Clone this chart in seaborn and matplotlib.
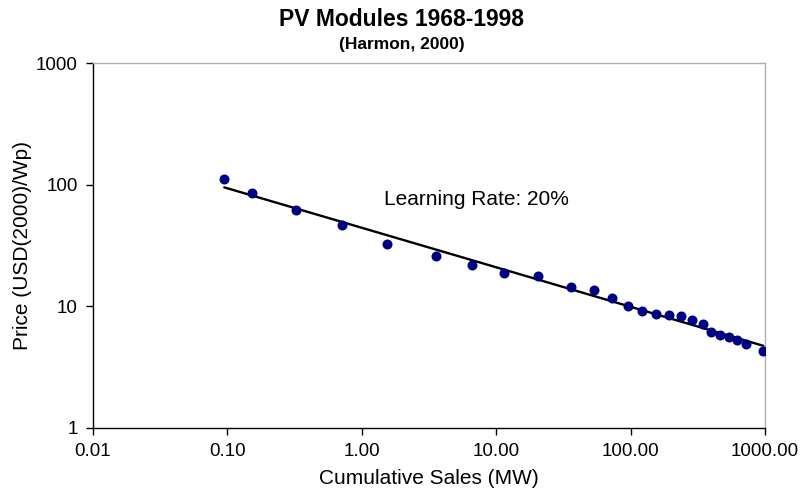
import numpy as np
import pandas as pd
import matplotlib
matplotlib.use("Agg")
import matplotlib.pyplot as plt
import seaborn as sns
from matplotlib.ticker import FixedLocator, FixedFormatter, NullLocator

# cumulative sales (MW) and module price (USD(2000)/Wp)
cum_sales = [0.0948, 0.152, 0.324, 0.708, 1.53, 3.55, 6.61, 11.4, 20.6, 35.8,
             53.7, 73.1, 95.7, 121.6, 153.8, 193, 237, 286, 344, 398,
             463, 537, 622, 722, 971]
price = [111.4, 85.9, 62.3, 46.4, 32.7, 26.1, 21.8, 18.7, 17.9, 14.4,
         13.5, 11.6, 10.1, 9.12, 8.71, 8.55, 8.29, 7.73, 7.17, 6.12,
         5.85, 5.64, 5.27, 4.88, 4.28]

x_ticks = [0.01, 0.1, 1, 10, 100, 1000]
x_ticklabels = ["0.01", "0.10", "1.00", "10.00", "100.00", "1000.00"]
y_ticks = [1, 10, 100, 1000]
y_ticklabels = ["1", "10", "100", "1000"]

df = pd.DataFrame({"sales": cum_sales, "price": price})

# power-law trend fitted in log-log space
b, a = np.polyfit(np.log10(df["sales"]), np.log10(df["price"]), 1)
trend = pd.DataFrame({"sales": [df["sales"].min(), df["sales"].max()]})
trend["price"] = 10 ** (a + b * np.log10(trend["sales"]))

sns.set_style("white")
plt.rcParams["font.family"] = ["Liberation Sans", "DejaVu Sans"]
plt.rcParams["text.color"] = "black"
plt.rcParams["axes.labelcolor"] = "black"
plt.rcParams["xtick.color"] = "black"
plt.rcParams["ytick.color"] = "black"

fig = plt.figure(figsize=(8.04, 4.95), dpi=100)
ax = fig.add_axes([93 / 804, 1 - 428 / 495, 672 / 804, 365 / 495])

sns.lineplot(data=trend, x="sales", y="price", color="black", linewidth=1.7, ax=ax)
sns.scatterplot(data=df, x="sales", y="price", color="#000080", s=52,
                edgecolor="#000080", linewidth=0, zorder=3, ax=ax)

ax.set_xscale("log")
ax.set_yscale("log")
ax.set_xlim(0.01, 1000)
ax.set_ylim(1, 1000)
ax.xaxis.set_major_locator(FixedLocator(x_ticks))
ax.xaxis.set_major_formatter(FixedFormatter(x_ticklabels))
ax.yaxis.set_major_locator(FixedLocator(y_ticks))
ax.yaxis.set_major_formatter(FixedFormatter(y_ticklabels))
ax.xaxis.set_minor_locator(NullLocator())
ax.yaxis.set_minor_locator(NullLocator())
ax.tick_params(axis="both", which="major", direction="out", length=5, width=1,
               color="black", labelcolor="black", labelsize=13.5, pad=6,
               bottom=True, left=True)

for side in ["left", "bottom"]:
    ax.spines[side].set_color("black")
    ax.spines[side].set_linewidth(1)
for side in ["top", "right"]:
    ax.spines[side].set_color("#b0b0b0")
    ax.spines[side].set_linewidth(1)

ax.set_xlabel("Cumulative Sales (MW)", fontsize=15, labelpad=6)
ax.set_ylabel("Price (USD(2000)/Wp)", fontsize=15, labelpad=3)

ax.text(1.46, 75, "Learning Rate: 20%", fontsize=15, ha="left", va="center")

fig.text(0.5, 1 - 19 / 495, "PV Modules 1968-1998", fontsize=16.5,
         fontweight="bold", ha="center", va="center")
fig.text(0.5, 1 - 45 / 495, "(Harmon, 2000)", fontsize=12.5,
         fontweight="bold", ha="center", va="center")

fig.savefig("out.png", dpi=100, facecolor="white")
